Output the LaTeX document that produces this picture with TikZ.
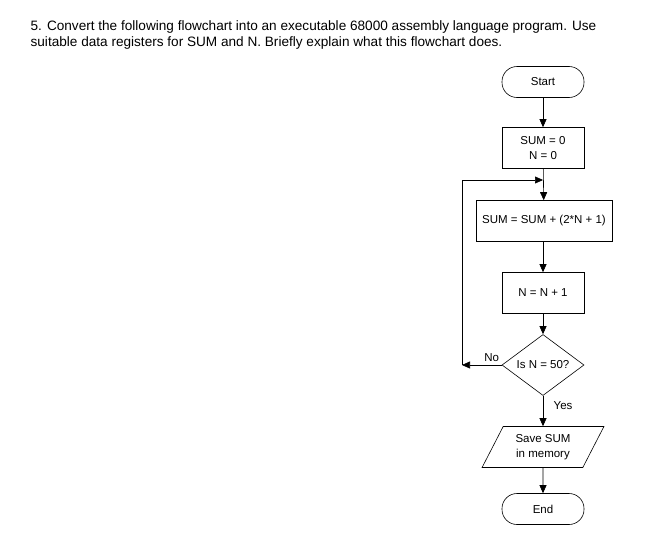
\documentclass[tikz,border=0pt]{standalone}
\usepackage{fontspec}
\setmainfont{Liberation Sans}
\usetikzlibrary{arrows.meta,shapes.geometric}

\begin{document}
\begin{tikzpicture}[x=1pt,y=-1pt,semithick,>={Triangle[length=8pt,width=7pt]}]
    \tikzstyle{block}=[draw, rectangle, minimum width=82pt, minimum height=41pt, align=center, font=\fontsize{11.5}{15}\selectfont]
    \tikzstyle{term}=[style=block, minimum height=31pt, rounded corners=15pt]
    \tikzstyle{decide}=[draw, diamond, minimum width=82pt, minimum height=61pt, inner sep=0pt, font=\fontsize{11.5}{15}\selectfont]
    \tikzstyle{io}=[draw, trapezium, trapezium left angle=63, trapezium right angle=117, minimum width=122pt, minimum height=41pt, trapezium stretches=true, align=center, font=\fontsize{11.5}{15}\selectfont]
    \tikzstyle{lbl}=[font=\fontsize{11.5}{15}\selectfont]

    \useasboundingbox (0,0) rectangle (645,546);

    \node[anchor=base west, align=left, font=\fontsize{13.6}{16}\selectfont] (q) at (27,46)
      {5. Convert the following flowchart into an executable 68000 assembly language program. Use\\
       suitable data registers for SUM and N. Briefly explain what this flowchart does.};

    \node[term]                     (start) at (543,82)  {Start};
    \node[block]                    (init)  at (543,148) {SUM = 0\\N = 0};
    \node[block, minimum width=136pt] (acc) at (544,221) {SUM = SUM + (2*N + 1)};
    \node[block]                    (inc)   at (543,293) {N = N + 1};
    \node[decide]                   (test)  at (543,365) {Is N = 50?};
    \node[io]                       (save)  at (543,447) {Save SUM\\in memory};
    \node[term]                     (stop)  at (543,509) {End};
    \coordinate (back) at (462,365);
    \coordinate (join) at (543,180);

    \draw[->] (start) -- (init);
    \draw[->] (init) -- (acc);
    \draw[->] (acc.south -| inc) -- (inc);
    \draw[->] (inc) -- (test);
    \draw[->] (test) -- node[lbl, right, xshift=7pt, pos=0.32] {Yes} (save);
    \draw[->] (save) -- (stop);
    \draw[->] (test.west) -- node[lbl, above, pos=0.25] {No} (back);
    \draw[->] (back) -- (back |- join) -- (join);
\end{tikzpicture}
\end{document}
